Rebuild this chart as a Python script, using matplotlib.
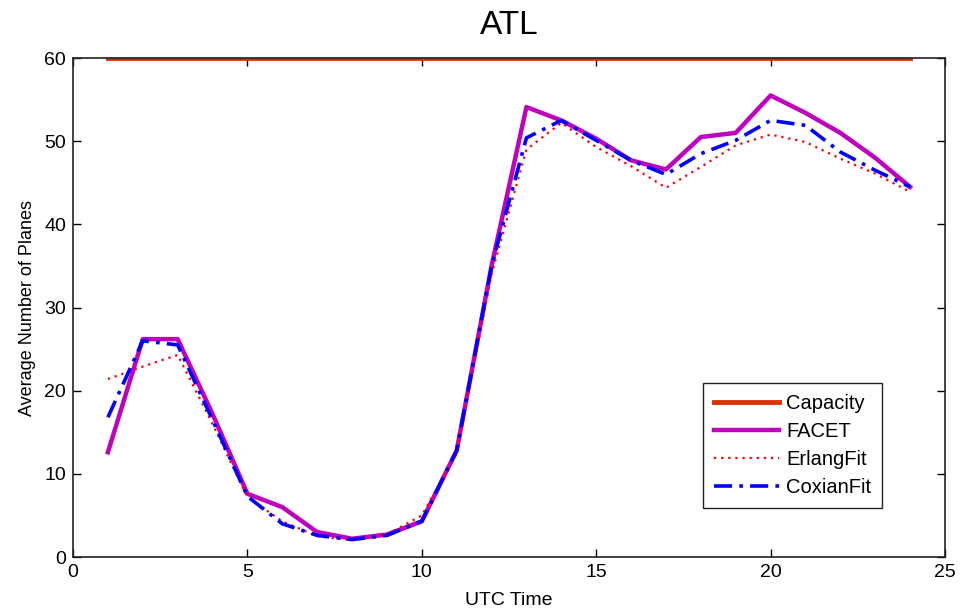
import matplotlib
matplotlib.use('Agg')
import matplotlib.pyplot as plt

hours = list(range(1, 25))
capacity = [60] * 24
facet = [12.6, 26.2, 26.2, 17.2, 7.6, 6.0, 3.0, 2.2, 2.7, 4.3, 12.8, 35.0,
         54.1, 52.5, 50.3, 47.7, 46.6, 50.5, 51.0, 55.5, 53.4, 51.0, 48.0, 44.5]
erlang = [21.4, 22.9, 24.3, 16.0, 7.2, 4.3, 2.5, 2.0, 2.7, 5.0, 12.5, 34.0,
          49.0, 52.2, 49.3, 47.0, 44.4, 46.9, 49.5, 50.8, 49.9, 47.9, 46.1, 43.9]
coxian = [16.8, 26.0, 25.5, 16.5, 7.3, 4.0, 2.6, 2.1, 2.6, 4.3, 12.8, 35.0,
          50.4, 52.5, 50.1, 47.7, 46.0, 48.5, 50.1, 52.5, 51.9, 48.7, 46.5, 44.5]

plt.rcParams['font.family'] = ['Liberation Sans', 'DejaVu Sans']

fig = plt.figure(figsize=(9.62, 6.14), dpi=100)
ax = fig.add_axes([0.0759, 0.0928, 0.9064, 0.8127])

# capacity sits right on the top edge, only the lower half shows
ax.plot(hours, capacity, color=(0.85, 0.2, 0.0), lw=3.5, label='Capacity', zorder=2)
ax.plot(hours, facet, color=(0.75, 0.0, 0.75), lw=3.2, label='FACET', zorder=3)
ax.plot(hours, erlang, color='red', lw=1.6, ls=(0, (1, 2.2)), label='ErlangFit', zorder=4)
ax.plot(hours, coxian, color='blue', lw=2.6, ls=(0, (5, 2, 1, 2)), label='CoxianFit', zorder=5)

ax.set_xlim(0, 25)
ax.set_ylim(0, 60)
ax.set_xticks([0, 5, 10, 15, 20, 25])
ax.set_yticks([0, 10, 20, 30, 40, 50, 60])
ax.tick_params(direction='in', top=True, right=True, labelsize=14, length=6,
               width=1, pad=5)
for s in ax.spines.values():
    s.set_linewidth(1.2)
    s.set_color('#222222')
    s.set_zorder(6)

ax.set_title('ATL', fontsize=24, pad=17)
ax.set_xlabel('UTC Time', fontsize=14, labelpad=8)
ax.set_ylabel('Average Number of Planes', fontsize=13, labelpad=6)

leg = ax.legend(loc='lower right', bbox_to_anchor=(0.928, 0.098), borderaxespad=0,
                fontsize=14.5, fancybox=False, framealpha=1, edgecolor='#222222',
                handlelength=3.2, handletextpad=0.35, borderpad=0.55,
                labelspacing=0.45)
leg.get_frame().set_linewidth(1.0)
leg.set_zorder(7)

fig.savefig('out.png', dpi=100)
